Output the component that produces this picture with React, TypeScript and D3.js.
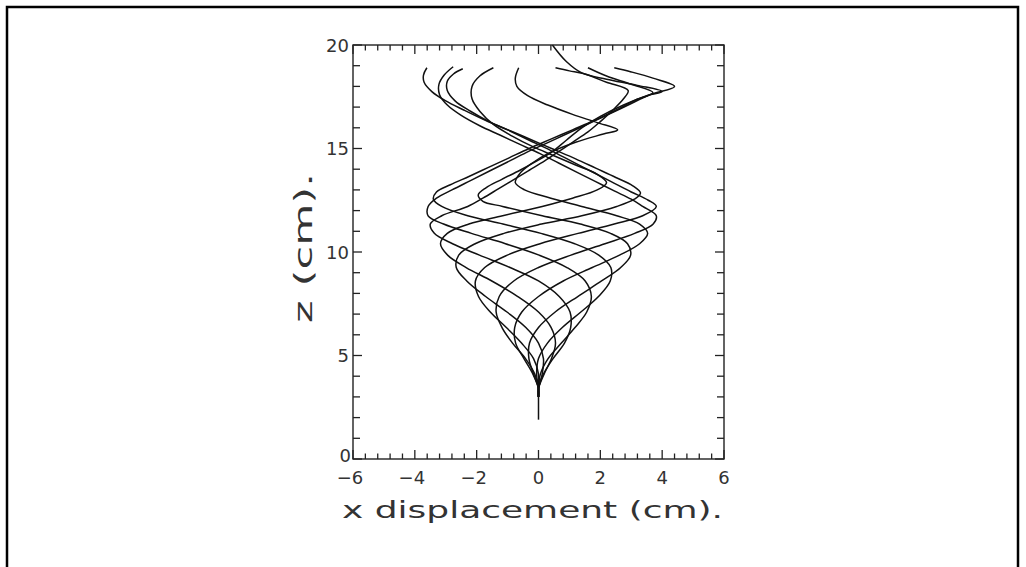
import React from 'react';
import * as d3 from 'd3';

// axis ticks and labels
const xMajor = [-6, -4, -2, 0, 2, 4, 6];
const xTickLabels = ['−6', '−4', '−2', '0', '2', '4', '6'];
const yMajor = [0, 5, 10, 15, 20];
const yTickLabels = ['0', '5', '10', '15', '20'];
const xMinorStep = 0.4;
const yMinorStep = 1;

// common heights of the lower (bulb) part of every trajectory
const zLow = [3.0, 3.4, 4.1, 4.85, 5.6, 6.35, 7.1, 7.85, 8.6, 9.25, 9.85, 10.4, 10.9, 11.35, 11.75, 12.2];

// x displacement of each trajectory at the zLow heights
const lowX = [
  [0, 0, 0.06, 0.31, 0.74, 1.18, 1.56, 1.71, 1.51, 0.92, 0.02, -1.07, -2.17, -3.07, -3.57, -3.57],
  [0, 0, 0.16, 0.47, 0.84, 1.04, 1.02, 0.67, 0, -0.92, -1.91, -2.78, -3.37, -3.5, -3.13, -2.29],
  [0, 0, 0.18, 0.42, 0.55, 0.41, 0, -0.67, -1.51, -2.34, -2.94, -3.17, -2.95, -2.25, -1.16, 0.12],
  [0, 0, 0.12, 0.16, 0, -0.41, -1.02, -1.71, -2.32, -2.66, -2.58, -2.05, -1.12, 0.1, 1.4, 2.53],
  [0, 0, 0, -0.16, -0.55, -1.04, -1.56, -1.94, -2.04, -1.74, -1.01, 0.05, 1.28, 2.45, 3.37, 3.81],
  [0, 0, -0.12, -0.42, -0.84, -1.18, -1.37, -1.27, -0.8, 0, 1.05, 2.15, 3.11, 3.71, 3.81, 3.37],
  [0, 0, -0.18, -0.47, -0.74, -0.77, -0.54, 0, 0.8, 1.74, 2.62, 3.27, 3.53, 3.27, 2.53, 1.4],
  [0, 0, -0.16, -0.31, -0.29, 0, 0.54, 1.27, 2.04, 2.66, 2.98, 2.88, 2.33, 1.35, 0.12, -1.16],
  [0, 0, -0.06, 0, 0.29, 0.77, 1.37, 1.94, 2.32, 2.34, 1.95, 1.17, 0.08, -1.15, -2.29, -3.13],
];

// upper part of every trajectory, [x, z]
const topXZ: [number, number][][] = [
  [[-3.3, 12.6], [-2.8, 13.0], [-2.2, 13.45], [-1.6, 13.9], [-1.0, 14.35], [-0.4, 14.8], [0.25, 15.25], [0.9, 15.7], [1.55, 16.15], [2.2, 16.6], [2.9, 17.1], [3.6, 17.6], [4.4, 18.0], [3.7, 18.4], [3.0, 18.7], [2.45, 18.9]],
  [[-1.8, 12.6], [-1.3, 13.05], [-0.8, 13.5], [-0.3, 13.95], [0.2, 14.4], [0.65, 14.85], [1.1, 15.3], [1.6, 15.8], [2.0, 16.3], [2.4, 16.85], [2.75, 17.4], [2.9, 17.8], [2.2, 18.2], [1.45, 18.62], [1.0, 18.75], [0.55, 18.9]],
  [[1.1, 12.6], [1.9, 13.0], [2.2, 13.35], [1.9, 13.75], [1.2, 14.2], [0.5, 14.65], [-0.2, 15.1], [-0.85, 15.6], [-1.45, 16.15], [-1.9, 16.8], [-2.15, 17.4], [-2.15, 18.0], [-1.9, 18.5], [-1.46, 18.9]],
  [[3.1, 12.55], [3.3, 12.85], [3.05, 13.2], [2.5, 13.6], [1.85, 14.05], [1.2, 14.5], [0.5, 14.95], [-0.2, 15.4], [-0.9, 15.85], [-1.6, 16.3], [-2.2, 16.8], [-2.7, 17.3], [-2.95, 17.8], [-2.95, 18.25], [-2.75, 18.6], [-2.45, 18.85]],
  [[3.55, 12.5], [3.0, 12.9], [2.35, 13.4], [1.7, 13.9], [1.05, 14.4], [0.4, 14.9], [-0.3, 15.4], [-1.0, 15.9], [-1.7, 16.35], [-2.4, 16.85], [-3.0, 17.3], [-3.45, 17.75], [-3.7, 18.2], [-3.72, 18.55], [-3.61, 18.9]],
  [[3.0, 12.55], [2.45, 12.95], [1.85, 13.4], [1.25, 13.85], [0.65, 14.3], [0.05, 14.75], [-0.6, 15.2], [-1.25, 15.65], [-1.9, 16.1], [-2.5, 16.6], [-2.95, 17.1], [-3.2, 17.6], [-3.22, 18.1], [-3.05, 18.55], [-2.76, 18.95]],
  [[0.4, 12.6], [-0.45, 13.0], [-0.75, 13.35], [-0.6, 13.8], [-0.2, 14.3], [0.3, 14.75], [1.2, 15.3], [2.1, 15.7], [2.56, 15.9], [1.9, 16.25], [1.1, 16.65], [0.3, 17.1], [-0.35, 17.55], [-0.7, 18.0], [-0.75, 18.4], [-0.64, 18.9]],
  [[-1.8, 12.45], [-1.95, 12.75], [-1.7, 13.1], [-1.2, 13.5], [-0.6, 13.95], [-0.05, 14.4], [0.45, 14.85], [0.9, 15.4], [1.4, 16.0], [2.0, 16.55], [2.75, 17.1], [3.5, 17.55], [4.0, 17.75], [3.2, 18.05], [2.2, 18.35], [1.4, 18.65], [0.9, 19.2], [0.45, 20.0]],
  [[-3.4, 12.55], [-3.3, 12.9], [-2.85, 13.25], [-2.25, 13.65], [-1.6, 14.1], [-0.95, 14.55], [-0.3, 15.0], [0.4, 15.45], [1.1, 15.9], [1.8, 16.35], [2.5, 16.85], [3.15, 17.35], [3.7, 17.7], [3.0, 18.1], [2.2, 18.5], [1.6, 18.9]],
];

// shared stem below the point where the trajectories split
const stemXZ: [number, number][] = [[0, 1.9], [0, 3.0]];

const W = 1026;
const H = 567;
const left = 353;
const right = 724;
const top = 45;
const bottom = 459;
const font = '"DejaVu Sans", sans-serif';

export default function App() {
  const x = d3.scaleLinear().domain([-6, 6]).range([left, right]);
  const y = d3.scaleLinear().domain([0, 20]).range([bottom, top]);

  const line = d3.line<[number, number]>()
    .x((d) => x(d[0]))
    .y((d) => y(d[1]))
    .curve(d3.curveCatmullRom.alpha(0.5));

  const strands = lowX.map((xs, i) => {
    const pts: [number, number][] = xs.map((v, k) => [v, zLow[k]]);
    return pts.concat(topXZ[i]);
  });

  const xMinor = d3.range(-6, 6.001, xMinorStep);
  const yMinor = d3.range(0, 20.001, yMinorStep);
  const isMajor = (v: number, list: number[]) => list.some((m) => Math.abs(m - v) < 1e-6);

  return (
    <svg width={W} height={H} style={{ position: 'absolute', left: 0, top: 0, background: '#fff' }}>
      <rect x={7} y={7} width={1011} height={600} fill="none" stroke="#000" strokeWidth={2.5} />

      {/* trajectories */}
      <g fill="none" stroke="#111" strokeWidth={1.5} strokeLinejoin="round">
        <path d={line(stemXZ) || ''} />
        {strands.map((s, i) => (
          <path key={i} d={line(s) || ''} />
        ))}
      </g>

      {/* frame */}
      <rect x={left} y={top} width={right - left} height={bottom - top} fill="none" stroke="#222" strokeWidth={1.4} />

      {/* ticks on all four sides, pointing inward */}
      <g stroke="#222" strokeWidth={1.3}>
        {xMinor.map((v, i) => {
          const len = isMajor(v, xMajor) ? 9 : 5.5;
          return (
            <g key={i}>
              <line x1={x(v)} x2={x(v)} y1={bottom} y2={bottom - len} />
              <line x1={x(v)} x2={x(v)} y1={top} y2={top + len} />
            </g>
          );
        })}
        {yMinor.map((v, i) => {
          const len = isMajor(v, yMajor) ? 9 : 7;
          return (
            <g key={i}>
              <line x1={left} x2={left + len} y1={y(v)} y2={y(v)} />
              <line x1={right} x2={right - len} y1={y(v)} y2={y(v)} />
            </g>
          );
        })}
      </g>

      {/* tick labels */}
      <g fontFamily={font} fontSize={18} fill="#333">
        {xMajor.map((v, i) => (
          <text key={i} x={x(v) + (v < 0 ? -3 : 0)} y={484} textAnchor="middle">{xTickLabels[i]}</text>
        ))}
        {yMajor.map((v, i) => (
          <text key={i} x={v === 0 ? 351 : 349} y={y(v) + (v === 0 ? 3 : 6.5)} textAnchor="end">{yTickLabels[i]}</text>
        ))}
      </g>

      {/* axis titles */}
      <text x={342} y={518} fontFamily={font} fontSize={23} fill="#333"
        textLength={381} lengthAdjust="spacingAndGlyphs">x displacement (cm).</text>
      <text transform="translate(312,248) rotate(-90)" textAnchor="middle" fontFamily={font} fontSize={24}
        fill="#333" textLength={150} lengthAdjust="spacingAndGlyphs">z (cm).</text>
    </svg>
  );
}
